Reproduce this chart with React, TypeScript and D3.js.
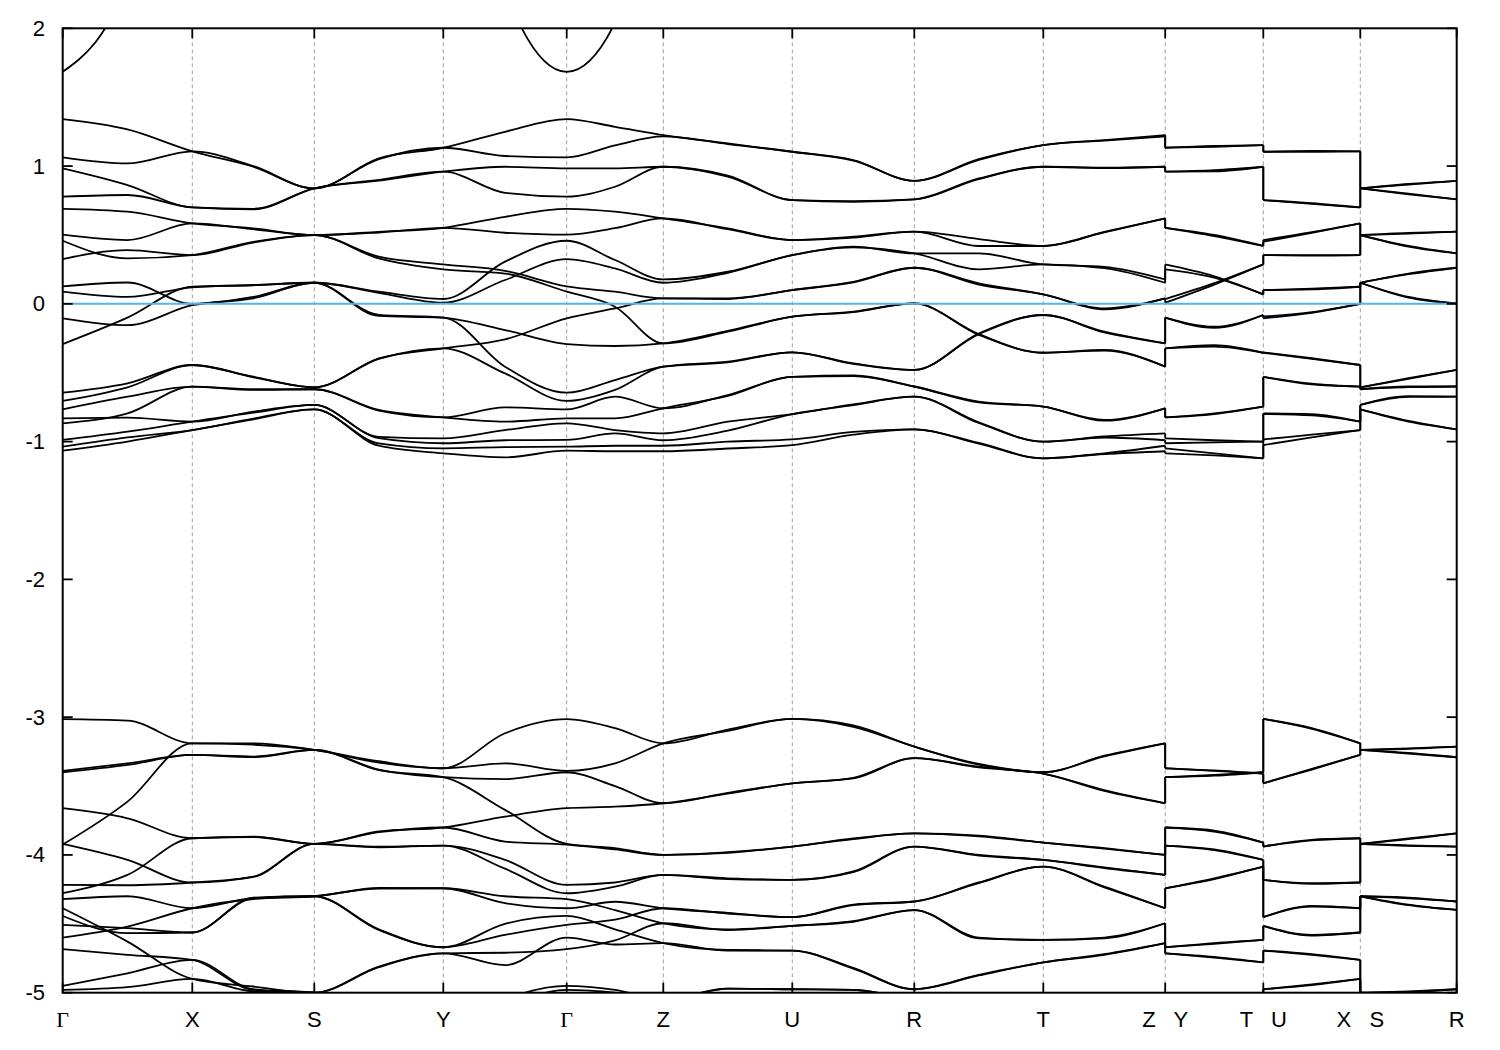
import React from 'react';
import * as d3 from 'd3';

// k-path distances of the high-symmetry points
const kPoints = [0, 1.296, 2.516, 3.806, 5.04, 6.006, 7.296, 8.516, 9.806, 11.025, 12.006, 12.976, 13.94];
const kLabels = ['Γ', 'X', 'S', 'Y', 'Γ', 'Z', 'U', 'R', 'T', 'Z   Y', 'T   U', 'X   S', 'R'];
const energyTicks = [-5, -4, -3, -2, -1, 0, 1, 2];
// path pieces (indices into kPoints): Γ..Z | Y-T | U-X | S-R
const pathPieces = [[0, 9], [9, 10], [10, 11], [11, 12]];

// Upper valence/conduction bands, piece Γ-X-S-Y-Γ-Z-U-R-T-Z (nodes + midpoints)
const upperMain = [
  [1.341, 1.266, 1.107, 0.995, 0.838, 1.056, 1.133, 1.249, 1.341, 1.285, 1.225, 1.164, 1.104, 1.044, 0.893, 1.05, 1.152, 1.189, 1.225],
  [1.063, 1.019, 1.107, 1.0, 0.838, 1.05, 1.133, 1.073, 1.063, 1.15, 1.215, 1.16, 1.104, 1.04, 0.893, 1.045, 1.152, 1.185, 1.215],
  [0.983, 0.862, 0.70, 0.69, 0.838, 0.894, 0.959, 0.995, 0.983, 0.983, 0.995, 0.923, 0.753, 0.74, 0.758, 0.91, 0.995, 0.988, 0.995],
  [0.778, 0.79, 0.70, 0.685, 0.838, 0.9, 0.959, 0.806, 0.778, 0.85, 0.995, 0.93, 0.753, 0.745, 0.758, 0.905, 0.995, 0.985, 0.995],
  [0.690, 0.669, 0.584, 0.548, 0.499, 0.523, 0.552, 0.632, 0.690, 0.669, 0.62, 0.548, 0.463, 0.487, 0.524, 0.47, 0.42, 0.523, 0.62],
  [0.502, 0.463, 0.584, 0.542, 0.499, 0.518, 0.552, 0.516, 0.502, 0.55, 0.62, 0.542, 0.463, 0.48, 0.524, 0.42, 0.42, 0.518, 0.62],
  [0.458, 0.33, 0.354, 0.45, 0.499, 0.342, 0.286, 0.24, 0.127, 0.088, 0.04, 0.04, 0.10, 0.16, 0.262, 0.149, 0.069, -0.033, 0.04],
  [0.325, 0.39, 0.354, 0.445, 0.499, 0.33, 0.25, 0.22, 0.088, -0.021, -0.287, -0.202, -0.093, -0.057, 0.003, -0.22, -0.355, -0.335, -0.456],
  [0.127, 0.155, 0.0, 0.05, 0.153, 0.088, 0.035, 0.306, 0.458, 0.318, 0.177, 0.233, 0.354, 0.415, 0.366, 0.366, 0.286, 0.269, 0.177],
  [0.088, 0.05, 0.12, 0.137, 0.153, 0.08, 0.008, 0.173, 0.325, 0.257, 0.153, 0.225, 0.354, 0.41, 0.366, 0.25, 0.286, 0.26, 0.153],
  [-0.105, -0.155, -0.01, 0.04, 0.153, -0.08, -0.10, -0.19, -0.292, -0.306, -0.287, -0.196, -0.093, -0.06, 0.003, -0.225, -0.355, -0.34, -0.456],
  [-0.292, -0.10, 0.125, 0.135, 0.153, -0.088, -0.10, -0.456, -0.645, -0.553, -0.456, -0.42, -0.352, -0.432, -0.48, -0.22, -0.081, -0.202, -0.287],
  [-0.645, -0.577, -0.444, -0.529, -0.606, -0.396, -0.323, -0.258, -0.105, -0.033, 0.04, 0.035, 0.10, 0.155, 0.262, 0.14, 0.069, -0.04, 0.04],
  [-0.705, -0.606, -0.444, -0.533, -0.606, -0.40, -0.323, -0.505, -0.705, -0.625, -0.456, -0.425, -0.352, -0.436, -0.48, -0.215, -0.081, -0.207, -0.287],
  [-0.766, -0.674, -0.601, -0.625, -0.62, -0.775, -0.824, -0.751, -0.766, -0.674, -0.758, -0.662, -0.53, -0.52, -0.6, -0.71, -0.746, -0.843, -0.758],
  [-0.831, -0.826, -0.855, -0.783, -0.734, -0.965, -0.976, -0.916, -0.867, -0.916, -0.94, -0.855, -0.80, -0.73, -0.674, -0.86, -1.0, -0.963, -0.94],
  [-0.867, -0.795, -0.601, -0.62, -0.62, -0.77, -0.824, -0.855, -0.831, -0.831, -0.758, -0.668, -0.53, -0.525, -0.6, -0.715, -0.746, -0.848, -0.758],
  [-0.988, -0.928, -0.855, -0.79, -0.734, -0.975, -1.012, -0.99, -0.988, -0.94, -0.99, -0.92, -0.80, -0.735, -0.674, -0.865, -1.0, -0.97, -0.99],
  [-1.037, -0.969, -0.916, -0.833, -0.766, -1.013, -1.049, -1.04, -1.037, -1.03, -1.03, -1.0, -0.984, -0.93, -0.911, -1.01, -1.121, -1.085, -1.03],
  [-1.066, -1.0, -0.916, -0.838, -0.766, -1.03, -1.085, -1.114, -1.066, -1.07, -1.07, -1.05, -1.025, -0.95, -0.911, -1.015, -1.121, -1.09, -1.07],
];
const upperYT = [
  [1.133, 1.14, 1.152], [1.133, 1.146, 1.152], [0.959, 0.97, 0.995], [0.959, 0.962, 0.995],
  [0.552, 0.50, 0.42], [0.552, 0.492, 0.42], [0.286, 0.2, 0.069], [0.25, 0.19, 0.069],
  [0.035, 0.15, 0.286], [0.008, 0.14, 0.286], [-0.10, -0.166, -0.081], [-0.10, -0.175, -0.081],
  [-0.323, -0.30, -0.355], [-0.323, -0.31, -0.355], [-0.824, -0.795, -0.746], [-0.824, -0.80, -0.746],
  [-0.976, -0.99, -1.0], [-1.012, -1.005, -1.0], [-1.049, -1.085, -1.121], [-1.085, -1.1, -1.121],
];
const upperUX = [
  [1.104, 1.104, 1.107], [1.104, 1.11, 1.107], [0.753, 0.73, 0.70], [0.753, 0.725, 0.70],
  [0.463, 0.52, 0.584], [0.451, 0.515, 0.584], [0.354, 0.354, 0.354], [0.354, 0.35, 0.354],
  [0.10, 0.11, 0.124], [0.10, 0.105, 0.124], [-0.093, -0.06, 0.0], [-0.105, -0.065, 0.0],
  [-0.352, -0.395, -0.444], [-0.355, -0.40, -0.444], [-0.53, -0.58, -0.601], [-0.53, -0.585, -0.601],
  [-0.795, -0.80, -0.855], [-0.80, -0.81, -0.855], [-0.984, -0.95, -0.916], [-1.025, -0.97, -0.916],
];
const upperSR = [
  [0.838, 0.87, 0.893], [0.838, 0.865, 0.893], [0.838, 0.80, 0.758], [0.838, 0.795, 0.758],
  [0.499, 0.51, 0.524], [0.499, 0.515, 0.524], [0.499, 0.42, 0.366], [0.499, 0.415, 0.366],
  [0.153, 0.22, 0.262], [0.153, 0.215, 0.262], [0.153, 0.05, 0.003], [0.153, 0.045, 0.003],
  [-0.606, -0.54, -0.48], [-0.606, -0.545, -0.48], [-0.62, -0.60, -0.60], [-0.62, -0.605, -0.60],
  [-0.734, -0.67, -0.674], [-0.734, -0.675, -0.674], [-0.766, -0.85, -0.911], [-0.766, -0.855, -0.911],
];

// Lower band group (-5 .. -3 eV)
const lowerMain = [
  [-3.015, -3.025, -3.19, -3.19, -3.238, -3.32, -3.371, -3.117, -3.015, -3.08, -3.19, -3.09, -3.013, -3.06, -3.214, -3.34, -3.40, -3.28, -3.19],
  [-3.925, -3.613, -3.19, -3.2, -3.238, -3.33, -3.371, -3.335, -3.39, -3.335, -3.19, -3.10, -3.013, -3.07, -3.214, -3.345, -3.40, -3.285, -3.19],
  [-3.39, -3.335, -3.274, -3.286, -3.238, -3.38, -3.436, -3.45, -3.40, -3.5, -3.625, -3.55, -3.48, -3.44, -3.298, -3.36, -3.41, -3.53, -3.625],
  [-3.40, -3.347, -3.274, -3.29, -3.238, -3.385, -3.436, -3.673, -3.92, -3.95, -4.0, -3.98, -3.939, -3.88, -3.843, -3.86, -3.91, -3.95, -4.0],
  [-3.661, -3.734, -3.879, -3.867, -3.92, -3.83, -3.801, -3.722, -3.661, -3.65, -3.625, -3.555, -3.48, -3.445, -3.298, -3.365, -3.41, -3.535, -3.625],
  [-4.278, -4.145, -3.879, -3.87, -3.92, -3.835, -3.801, -3.903, -3.925, -3.96, -4.0, -3.985, -3.939, -3.885, -3.843, -3.865, -3.91, -3.955, -4.0],
  [-3.92, -4.036, -4.2, -4.157, -3.92, -3.94, -3.932, -4.036, -4.218, -4.2, -4.145, -4.17, -4.181, -4.12, -3.939, -4.0, -4.036, -4.09, -4.145],
  [-4.218, -4.22, -4.2, -4.16, -3.92, -3.945, -3.932, -4.1, -4.278, -4.23, -4.145, -4.175, -4.181, -4.125, -3.939, -4.005, -4.036, -4.095, -4.145],
  [-4.321, -4.3, -4.387, -4.314, -4.3, -4.24, -4.242, -4.35, -4.387, -4.34, -4.387, -4.42, -4.452, -4.36, -4.338, -4.2, -4.085, -4.23, -4.387],
  [-4.6, -4.52, -4.387, -4.32, -4.3, -4.245, -4.242, -4.3, -4.321, -4.4, -4.496, -4.54, -4.515, -4.48, -4.4, -4.6, -4.617, -4.6, -4.496],
  [-4.508, -4.532, -4.563, -4.31, -4.3, -4.54, -4.67, -4.5, -4.443, -4.54, -4.64, -4.69, -4.694, -4.82, -4.975, -4.87, -4.78, -4.72, -4.64],
  [-4.443, -4.568, -4.563, -4.315, -4.3, -4.545, -4.67, -4.58, -4.508, -4.47, -4.387, -4.425, -4.452, -4.365, -4.338, -4.205, -4.085, -4.235, -4.387],
  [-4.387, -4.629, -4.9, -4.955, -5.0, -4.81, -4.714, -4.8, -4.6, -4.65, -4.64, -4.695, -4.694, -4.825, -4.975, -4.875, -4.78, -4.725, -4.64],
  [-4.684, -4.725, -4.762, -4.98, -5.0, -4.815, -4.714, -4.71, -4.684, -4.62, -4.496, -4.545, -4.515, -4.485, -4.4, -4.605, -4.617, -4.605, -4.496],
  [-4.95, -4.859, -4.762, -4.975, -5.0, -5.2, -5.3, -5.05, -4.95, -4.98, -5.05, -4.97, -4.975, -4.98, -5.05, -5.1, -5.2, -5.1, -5.05],
  [-4.98, -4.96, -4.9, -4.99, -5.0, -5.2, -5.3, -5.1, -4.98, -5.0, -5.05, -4.97, -4.975, -4.98, -5.05, -5.1, -5.2, -5.1, -5.05],
];
const lowerYT = [
  [-3.371, -3.387, -3.41], [-3.371, -3.39, -3.41], [-3.436, -3.42, -3.40], [-3.436, -3.425, -3.40],
  [-3.801, -3.823, -3.91], [-3.801, -3.83, -3.91], [-3.932, -3.96, -4.036], [-3.932, -3.965, -4.036],
  [-4.242, -4.17, -4.085], [-4.242, -4.175, -4.085], [-4.67, -4.64, -4.617], [-4.67, -4.645, -4.617],
  [-4.714, -4.74, -4.78], [-4.714, -4.745, -4.78], [-5.3, -5.25, -5.2], [-5.3, -5.25, -5.2],
];
const lowerUX = [
  [-3.013, -3.08, -3.19], [-3.013, -3.085, -3.19], [-3.48, -3.38, -3.274], [-3.48, -3.375, -3.274],
  [-3.939, -3.89, -3.879], [-3.939, -3.895, -3.879], [-4.181, -4.21, -4.2], [-4.181, -4.205, -4.2],
  [-4.452, -4.37, -4.387], [-4.452, -4.375, -4.387], [-4.515, -4.58, -4.563], [-4.515, -4.585, -4.563],
  [-4.694, -4.72, -4.762], [-4.694, -4.725, -4.762], [-4.975, -4.94, -4.9], [-4.975, -4.945, -4.9],
];
const lowerSR = [
  [-3.238, -3.226, -3.214], [-3.238, -3.23, -3.214], [-3.238, -3.26, -3.291], [-3.238, -3.265, -3.291],
  [-3.92, -3.88, -3.843], [-3.92, -3.885, -3.843], [-3.92, -3.935, -3.939], [-3.92, -3.93, -3.939],
  [-4.3, -4.31, -4.338], [-4.3, -4.315, -4.338], [-4.3, -4.36, -4.399], [-4.3, -4.365, -4.399],
  [-5.0, -4.99, -4.975], [-5.0, -4.995, -4.975], [-5.0, -5.1, -5.05], [-5.0, -5.1, -5.05],
];
// band above the window, dipping in only near Γ
const highBand = [1.684, 2.36, 4.6, 4.6, 4.6, 4.6, 4.6, 2.28, 1.684, 2.04, 3.2, 4.6, 4.6, 4.6, 4.6, 4.6, 4.6, 4.6, 4.6];

function sampleKs(a: number, b: number): number[] {
  const ks: number[] = [];
  for (let i = a; i < b; i++) ks.push(kPoints[i], (kPoints[i] + kPoints[i + 1]) / 2);
  ks.push(kPoints[b]);
  return ks;
}

const L = 62.7, R = 1456.7, T = 28.3, B = 992.7;

export default function App() {
  const x = d3.scaleLinear().domain([0, kPoints[kPoints.length - 1]]).range([L, R]);
  const y = d3.scaleLinear().domain([-5, 2]).range([B, T]);
  const line = d3.line<[number, number]>().x(d => x(d[0])).y(d => y(d[1])).curve(d3.curveMonotoneX);

  const groups: number[][][][] = [
    [upperMain, upperYT, upperUX, upperSR],
    [lowerMain, lowerYT, lowerUX, lowerSR],
    [[highBand]],
  ];
  const paths: string[] = [];
  const jumps: { k: number; e0: number; e1: number }[] = [];
  groups.forEach(g => {
    g.forEach((bands, p) => {
      const ks = sampleKs(pathPieces[p][0], pathPieces[p][1]);
      bands.forEach(b => paths.push(line(ks.map((k, i) => [k, b[i]] as [number, number])) || ''));
      if (p > 0) {
        const ends = g[p - 1].map(b => b[b.length - 1]).sort((a, c) => a - c);
        const starts = bands.map(b => b[0]).sort((a, c) => a - c);
        const kb = kPoints[pathPieces[p][0]];
        ends.forEach((e, i) => jumps.push({ k: kb, e0: e, e1: starts[i] }));
      }
    });
  });

  const font = "'Liberation Sans', Arial, Helvetica, sans-serif";
  return (
    <svg width={1500} height={1050} style={{ position: 'absolute', left: 0, top: 0, background: '#fff' }}>
      <defs>
        <clipPath id="plotClip">
          <rect x={L} y={T} width={R - L} height={B - T} />
        </clipPath>
      </defs>
      <rect x={0} y={0} width={1500} height={1050} fill="#fff" />
      {kPoints.slice(1, -1).map((k, i) => (
        <line key={'g' + i} x1={x(k)} x2={x(k)} y1={T} y2={B} stroke="#a0a0a0" strokeWidth={1} strokeDasharray="4,3" />
      ))}
      <g clipPath="url(#plotClip)" fill="none" stroke="#000" strokeWidth={1.8} strokeLinejoin="round">
        {paths.map((d, i) => <path key={'b' + i} d={d} />)}
        {jumps.map((j, i) => (
          <line key={'j' + i} x1={x(j.k)} x2={x(j.k)} y1={y(j.e0)} y2={y(j.e1)} />
        ))}
      </g>
      <line x1={L} x2={R} y1={y(0)} y2={y(0)} stroke="#56b4e9" strokeWidth={2} />
      <rect x={L} y={T} width={R - L} height={B - T} fill="none" stroke="#000" strokeWidth={2} />
      {kPoints.map((k, i) => (
        <g key={'xt' + i} stroke="#000" strokeWidth={1.8}>
          <line x1={x(k)} x2={x(k)} y1={B} y2={B - 10} />
          <line x1={x(k)} x2={x(k)} y1={T} y2={T + 10} />
        </g>
      ))}
      {energyTicks.map((e, i) => (
        <g key={'yt' + i} stroke="#000" strokeWidth={1.8}>
          <line x1={L} x2={L + 10} y1={y(e)} y2={y(e)} />
          <line x1={R} x2={R - 10} y1={y(e)} y2={y(e)} />
        </g>
      ))}
      {energyTicks.map((e, i) => (
        <text key={'yl' + i} x={45} y={y(e) + 7.5} textAnchor="end" fontFamily={font} fontSize={22} fill="#000">
          {String(e)}
        </text>
      ))}
      {kPoints.map((k, i) => (
        <text
          key={'xl' + i}
          x={x(k)}
          y={1027}
          textAnchor="middle"
          fontFamily={kLabels[i] === 'Γ' ? "'Liberation Serif', 'Times New Roman', serif" : font}
          fontSize={22}
          fill="#000"
          style={{ whiteSpace: 'pre' }}
        >
          {kLabels[i]}
        </text>
      ))}
    </svg>
  );
}
